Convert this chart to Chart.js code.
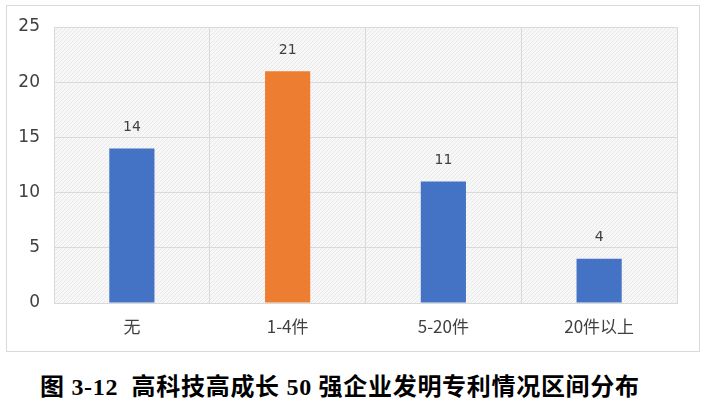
<!DOCTYPE html>
<html>
<head>
<meta charset="utf-8">
<script src="https://cdn.jsdelivr.net/npm/chart.js@4/dist/chart.umd.min.js"></script>
<style>
  body { margin: 0; background: #fff; width: 706px; height: 400px; position: relative; overflow: hidden; }
  #box { position: absolute; left: 6px; top: 5px; width: 692px; height: 345px; border: 1px solid #d9d9d9; }
  #caption {
    position: absolute; left: 40px; top: 372px; white-space: pre;
    font-family: 'Liberation Serif', 'Noto Sans CJK SC', serif; font-weight: bold;
    font-size: 24px; letter-spacing: 0.7px; color: #000; line-height: 30px;
  }
</style>
</head>
<body>
<div id="box"><canvas id="myChart"></canvas></div>
<div id="caption">图 3-12  高科技高成长 50 强企业发明专利情况区间分布</div>
<script>
const categories = ['无', '1-4件', '5-20件', '20件以上'];
const counts = [14, 21, 11, 4];
const barColors = ['#4472C4', '#ED7D31', '#4472C4', '#4472C4'];
const yTicks = [0, 5, 10, 15, 20, 25];

// fine hatched fill like the original plot area
const pat = document.createElement('canvas');
pat.width = 4; pat.height = 4;
const pctx = pat.getContext('2d');
pctx.fillStyle = '#f7f7f7';
pctx.fillRect(0, 0, 4, 4);
pctx.fillStyle = '#e9e9e9';
pctx.fillRect(0, 0, 1, 1);
pctx.fillRect(2, 2, 1, 1);
pctx.fillRect(1, 3, 1, 1);
pctx.fillRect(3, 1, 1, 1);

const plotBg = {
  id: 'plotBg',
  beforeDraw(chart) {
    const { ctx, chartArea: a } = chart;
    ctx.save();
    ctx.fillStyle = ctx.createPattern(pat, 'repeat');
    ctx.fillRect(a.left, a.top, a.right - a.left, a.bottom - a.top);
    ctx.restore();
  }
};

const valueLabels = {
  id: 'valueLabels',
  afterDatasetsDraw(chart) {
    const ctx = chart.ctx;
    ctx.save();
    ctx.fillStyle = '#404040';
    ctx.font = '14px "DejaVu Sans", sans-serif';
    ctx.textAlign = 'center';
    ctx.textBaseline = 'middle';
    chart.getDatasetMeta(0).data.forEach((bar, i) => {
      ctx.fillText(counts[i], bar.x, bar.y - 21);
    });
    ctx.restore();
  }
};

const ctx = document.getElementById('myChart').getContext('2d');
const myChart = new Chart(ctx, {
  type: 'bar',
  data: {
    labels: categories,
    datasets: [{
      data: counts,
      backgroundColor: barColors,
      borderWidth: 0,
      barPercentage: 0.29,
      categoryPercentage: 1
    }]
  },
  options: {
    responsive: true,
    maintainAspectRatio: false,
    animation: false,
    layout: { padding: { top: 21, right: 22, left: 0, bottom: 0 } },
    plugins: {
      legend: { display: false },
      tooltip: { enabled: false }
    },
    scales: {
      x: {
        offset: true,
        grid: { offset: true, color: '#d9d9d9', drawTicks: false },
        border: { color: '#d9d9d9', width: 1 },
        ticks: {
          color: '#404040',
          padding: 13,
          font: { size: 17, family: '"Noto Sans CJK SC", sans-serif' }
        },
        afterFit(scale) { scale.height = 48; }
      },
      y: {
        min: 0,
        max: 25,
        afterBuildTicks(scale) { scale.ticks = yTicks.map(v => ({ value: v })); },
        grid: { color: '#d9d9d9', drawTicks: false },
        border: { color: '#d9d9d9', width: 1 },
        ticks: {
          color: '#404040',
          padding: 14,
          font: { size: 17, family: '"DejaVu Sans", sans-serif' }
        },
        afterFit(scale) {
          scale.width = 47;
          scale.paddingTop = 0;
          scale.paddingBottom = 0;
        }
      }
    }
  },
  plugins: [plotBg, valueLabels]
});
</script>
</body>
</html>
